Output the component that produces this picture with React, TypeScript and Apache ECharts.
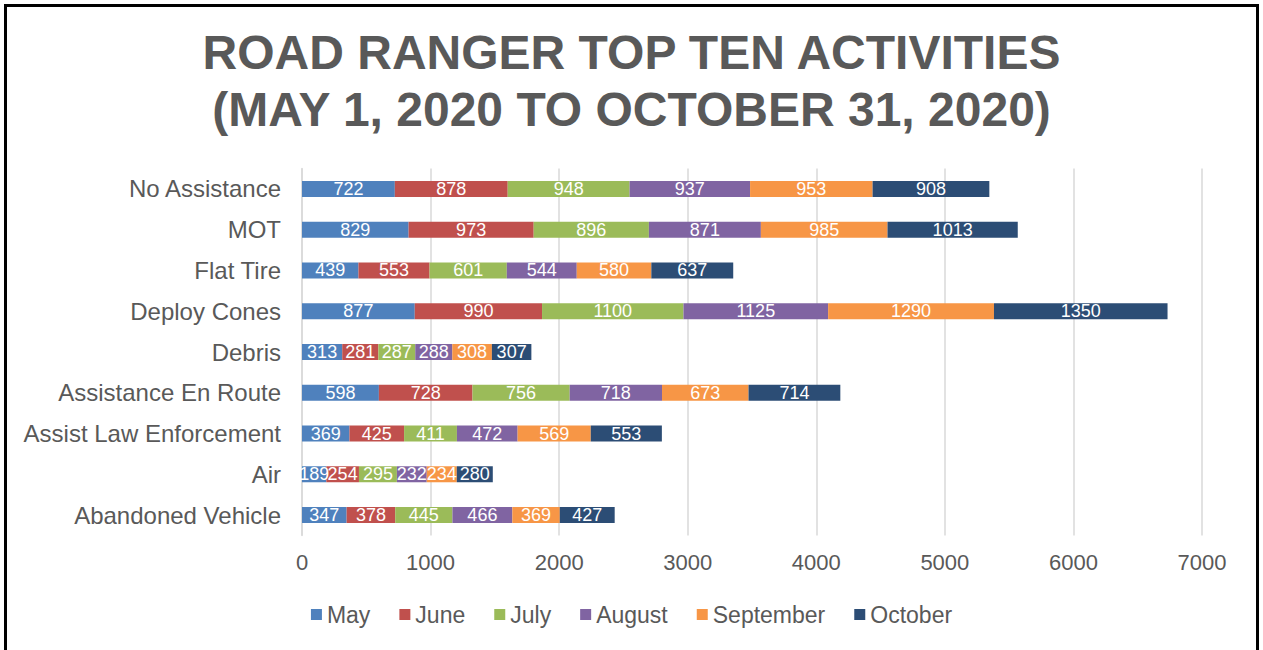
import React, { useEffect, useRef } from "react";
import * as echarts from "echarts";

const categories = [
  "No Assistance",
  "MOT",
  "Flat Tire",
  "Deploy Cones",
  "Debris",
  "Assistance En Route",
  "Assist Law Enforcement",
  "Air",
  "Abandoned Vehicle",
];

const may = [722, 829, 439, 877, 313, 598, 369, 189, 347];
const june = [878, 973, 553, 990, 281, 728, 425, 254, 378];
const july = [948, 896, 601, 1100, 287, 756, 411, 295, 445];
const august = [937, 871, 544, 1125, 288, 718, 472, 232, 466];
const september = [953, 985, 580, 1290, 308, 673, 569, 234, 369];
const october = [908, 1013, 637, 1350, 307, 714, 553, 280, 427];

const seriesNames = ["May", "June", "July", "August", "September", "October"];
const seriesData = [may, june, july, august, september, october];
const colors = ["#4F81BD", "#C0504D", "#9BBB59", "#8064A2", "#F79646", "#2C4D75"];

const FONT = "'Liberation Sans', Arial, sans-serif";

export default function App() {
  const ref = useRef<HTMLDivElement>(null);
  useEffect(() => {
    if (!ref.current) return;
    const chart = echarts.init(ref.current, undefined, { renderer: "svg" });
    chart.setOption({
      animation: false,
      backgroundColor: "#ffffff",
      color: colors,
      textStyle: { fontFamily: FONT },
      title: {
        text: "ROAD RANGER TOP TEN ACTIVITIES\n(MAY 1, 2020 TO OCTOBER 31, 2020)",
        left: "center",
        top: 19,
        textStyle: {
          fontFamily: FONT,
          fontSize: 48,
          fontWeight: "bold",
          color: "#595959",
          lineHeight: 57,
        },
      },
      graphic: [
        {
          type: "rect",
          shape: { x: 5.5, y: 5.5, width: 1252, height: 700 },
          style: { fill: "none", stroke: "#000", lineWidth: 3 },
          silent: true,
        },
      ],
      legend: {
        data: seriesNames,
        left: "center",
        top: 598,
        icon: "rect",
        itemWidth: 11,
        itemHeight: 11,
        itemGap: 29,
        textStyle: { fontFamily: FONT, fontSize: 23, color: "#595959" },
      },
      grid: { left: 302, right: 61, top: 168.6, bottom: 114.6, containLabel: false },
      xAxis: {
        type: "value",
        min: 0,
        max: 7000,
        interval: 1000,
        axisLine: { show: false },
        axisTick: { show: false },
        splitLine: { lineStyle: { color: "#D9D9D9", width: 1.5 } },
        axisLabel: {
          fontFamily: FONT,
          fontSize: 22,
          color: "#595959",
          margin: 16,
          formatter: (v: number) => String(v),
        },
      },
      yAxis: {
        type: "category",
        inverse: true,
        data: categories,
        axisLine: { show: true, lineStyle: { color: "#D9D9D9", width: 1.5 } },
        axisTick: { show: false },
        axisLabel: { fontFamily: FONT, fontSize: 24, color: "#595959", margin: 21 },
      },
      series: seriesNames.map((name, i) => ({
        name,
        type: "bar",
        stack: "total",
        barWidth: 16,
        data: seriesData[i],
        itemStyle: { color: colors[i] },
        label: {
          show: true,
          position: "inside",
          color: "#ffffff",
          fontFamily: FONT,
          fontSize: 18,
        },
      })),
    });
    return () => chart.dispose();
  }, []);
  return (
    <div
      ref={ref}
      style={{ position: "fixed", left: 0, top: 0, width: 1263, height: 650 }}
    />
  );
}
